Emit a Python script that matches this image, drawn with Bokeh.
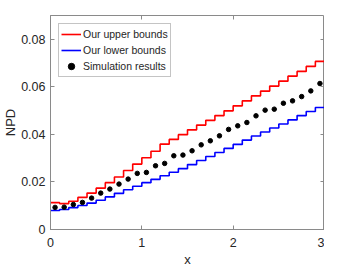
from bokeh.plotting import figure
from bokeh.models import Range1d, LinearAxis, FixedTicker, Legend, LegendItem, CustomJSTickFormatter
from bokeh.embed import file_html
from bokeh.resources import INLINE

# step edges (x) and per-step values
x_edges = [round(0.1 * i, 1) for i in range(31)]
upper = [0.0113, 0.0109, 0.0119, 0.0135, 0.0153, 0.0174, 0.0197, 0.0221, 0.0248, 0.0275,
         0.0302, 0.0329, 0.0359, 0.0379, 0.0399, 0.0419, 0.0439, 0.0459, 0.0479, 0.0499,
         0.0520, 0.0541, 0.0562, 0.0582, 0.0603, 0.0624, 0.0645, 0.0665, 0.0686, 0.0707]
lower = [0.0080, 0.0084, 0.0092, 0.0101, 0.0111, 0.0123, 0.0137, 0.0152, 0.0167, 0.0182,
         0.0197, 0.0211, 0.0226, 0.0241, 0.0256, 0.0273, 0.0290, 0.0307, 0.0324, 0.0341,
         0.0358, 0.0376, 0.0393, 0.0410, 0.0427, 0.0444, 0.0461, 0.0479, 0.0496, 0.0513]
sim_x = [round(0.05 + 0.1 * i, 2) for i in range(30)]
sim = [0.0093, 0.0094, 0.0105, 0.0114, 0.0132, 0.0153, 0.0170, 0.0191, 0.0212, 0.0236,
       0.0240, 0.0268, 0.0278, 0.0310, 0.0313, 0.0331, 0.0356, 0.0373, 0.0394, 0.0421,
       0.0436, 0.0450, 0.0478, 0.0502, 0.0506, 0.0531, 0.0541, 0.0559, 0.0583, 0.0614]
x_ticks = [0, 1, 2, 3]
y_ticks = [0, 0.02, 0.04, 0.06, 0.08]
y_tick_labels = {0: "0", 0.02: "0.02", 0.04: "0.04", 0.06: "0.06", 0.08: "0.08"}

FONT = "Liberation Sans"
AX = "#8a8a8a"
TXT = "#262626"

p = figure(frame_width=274, frame_height=214, output_backend="svg", toolbar_location=None,
           x_range=Range1d(0, 3), y_range=Range1d(0, 0.09),
           min_border_left=41, min_border_right=0, min_border_top=15, min_border_bottom=0)
p.xgrid.visible = False
p.ygrid.visible = False
p.outline_line_color = AX
p.outline_line_width = 1
p.background_fill_color = "white"
p.border_fill_color = "white"

for ax in (p.xaxis[0], p.yaxis[0]):
    ax.axis_line_color = AX
    ax.major_tick_line_color = AX
    ax.major_tick_in = 4
    ax.major_tick_out = 0
    ax.minor_tick_line_color = None
    ax.major_label_text_font = FONT
    ax.major_label_text_font_size = "12.5px"
    ax.major_label_text_color = TXT
    ax.axis_label_text_font = FONT
    ax.axis_label_text_font_size = "13px"
    ax.axis_label_text_font_style = "normal"
    ax.axis_label_text_color = TXT

p.xaxis.ticker = FixedTicker(ticks=x_ticks)
p.yaxis.ticker = FixedTicker(ticks=y_ticks)
p.yaxis.major_label_overrides = y_tick_labels
p.xaxis.axis_label = "x"
p.yaxis.axis_label = "NPD"
p.xaxis.major_label_standoff = 8
p.xaxis.axis_label_standoff = 2
p.yaxis.major_label_standoff = 5
p.yaxis.axis_label_standoff = 0

# mirrored inward ticks on top and right (no labels)
blank = CustomJSTickFormatter(code="return ''")
top = LinearAxis(ticker=FixedTicker(ticks=x_ticks), formatter=blank,
                 axis_line_color=None, major_tick_line_color=AX, major_tick_in=4,
                 major_tick_out=0, minor_tick_line_color=None, major_label_standoff=0)
right = LinearAxis(ticker=FixedTicker(ticks=y_ticks), formatter=blank,
                   axis_line_color=None, major_tick_line_color=AX, major_tick_in=4,
                   major_tick_out=0, minor_tick_line_color=None, major_label_standoff=0)
p.add_layout(top, "above")
p.add_layout(right, "right")

r_up = p.step(x_edges, upper + upper[-1:], mode="after", line_color="#ff0000", line_width=1.6)
r_lo = p.step(x_edges, lower + lower[-1:], mode="after", line_color="#0000ff", line_width=1.6)
r_sim = p.scatter(sim_x, sim, size=4.5, fill_color="black", line_color="black")

legend = Legend(items=[LegendItem(label="Our upper bounds", renderers=[r_up]),
                       LegendItem(label="Our lower bounds", renderers=[r_lo]),
                       LegendItem(label="Simulation results", renderers=[r_sim])],
                location="top_left")
legend.label_text_font = FONT
legend.label_text_font_size = "10.5px"
legend.label_text_color = TXT
legend.border_line_color = AX
legend.border_line_width = 1
legend.margin = 8
legend.padding = 2
legend.spacing = 0
legend.glyph_width = 20
legend.glyph_height = 16
legend.label_height = 16
legend.label_standoff = 2
p.add_layout(legend, "center")

open("out.html", "w").write(file_html(p, INLINE))
